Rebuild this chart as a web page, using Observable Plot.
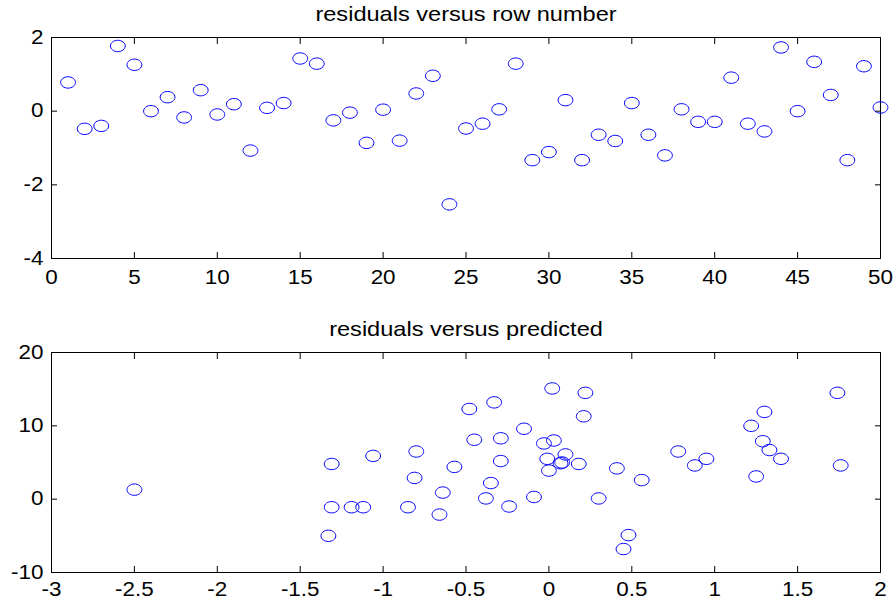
<!DOCTYPE html>
<html>
<head>
<meta charset="utf-8">
<script src="https://cdn.jsdelivr.net/npm/d3@7"></script>
<script src="https://cdn.jsdelivr.net/npm/@observablehq/plot@0.6"></script>
<style>
  body { margin: 0; background: #ffffff; }
  #chart svg { display: block; }
</style>
</head>
<body>
<div id="chart"></div>
<script>
// ---- data ----
const rowNumber = [1,2,3,4,5,6,7,8,9,10,11,12,13,14,15,16,17,18,19,20,21,22,23,24,25,
                   26,27,28,29,30,31,32,33,34,35,36,37,38,39,40,41,42,43,44,45,46,47,48,49,50];
const residualsByRow = [0.78,-0.48,-0.40,1.77,1.26,0.00,0.38,-0.17,0.57,-0.09,0.19,-1.07,0.09,0.22,1.43,1.29,-0.25,-0.04,-0.86,0.04,-0.80,0.48,0.96,-2.53,-0.47,
                        -0.34,0.05,1.29,-1.33,-1.11,0.30,-1.33,-0.64,-0.81,0.22,-0.64,-1.20,0.05,-0.29,-0.29,0.91,-0.34,-0.55,1.73,0.00,1.34,0.44,-1.33,1.22,0.10];
const predicted = [-2.50,-1.31,-1.31,-1.19,-1.12,-1.33,-1.06,-0.80,-0.81,-0.85,-0.64,-0.66,-0.57,-0.48,-0.33,-0.45,-0.29,-0.29,-0.15,-0.35,-0.38,-0.24,-0.09,0.02,0.22,
                   0.21,-0.03,0.03,-0.01,0.10,0.07,0.08,0.00,0.18,0.41,0.56,0.30,0.48,0.45,0.78,0.88,0.95,1.22,1.30,1.29,1.33,1.40,1.25,1.74,1.76];
const residualsByPred = [1.3,4.8,-1.1,-1.1,-1.1,-5.0,5.9,6.5,2.9,-1.1,0.9,-2.1,4.4,12.3,13.2,8.1,8.3,5.2,9.6,2.2,0.1,-1.0,0.3,15.1,14.5,
                         11.3,7.6,8.0,5.5,6.1,4.9,5.0,3.9,4.8,4.2,2.6,0.1,-4.9,-6.8,6.5,4.6,5.5,10.0,11.9,7.9,6.7,5.5,3.1,14.5,4.6];

const topXTicks = [0,5,10,15,20,25,30,35,40,45,50];
const topYTicks = [-4,-2,0,2];
const botXTicks = [-3,-2.5,-2,-1.5,-1,-0.5,0,0.5,1,1.5,2];
const botYTicks = [-10,0,10,20];
const titles = ["residuals versus row number", "residuals versus predicted"];

// ---- helpers ----
const ellipse = {
  draw(context) {
    const rx = 7.4, ry = 5.7, k = 0.5523;
    context.moveTo(rx, 0);
    context.bezierCurveTo(rx, ry * k, rx * k, ry, 0, ry);
    context.bezierCurveTo(-rx * k, ry, -rx, ry * k, -rx, 0);
    context.bezierCurveTo(-rx, -ry * k, -rx * k, -ry, 0, -ry);
    context.bezierCurveTo(rx * k, -ry, rx, -ry * k, rx, 0);
    context.closePath();
  }
};
const fmt = d => String(d);
const none = () => "";
const TICK = 6;

function panel({xs, ys, xDomain, yDomain, xTicks, yTicks, title, height, marginTop, marginBottom, titleDy, xPad}) {
  const data = xs.map((x, i) => ({x, y: ys[i]}));
  const tk = {tickSize: TICK, tickFormat: none, label: null, stroke: "#000000", strokeWidth: 1};
  return Plot.plot({
    width: 895,
    height,
    marginLeft: 51,
    marginRight: 15,
    marginTop,
    marginBottom,
    style: {fontFamily: "Arial, 'Liberation Sans', sans-serif", fontSize: "19.5px", background: "#ffffff", color: "#000000", overflow: "visible"},
    x: {domain: xDomain, nice: false},
    y: {domain: yDomain, nice: false},
    marks: [
      Plot.axisX(xTicks, {anchor: "bottom", tickSize: 0, tickPadding: xPad, tickFormat: fmt, label: null}),
      Plot.axisY(yTicks, {anchor: "left", tickSize: 0, tickPadding: 8, tickFormat: fmt, label: null}),
      // inward tick marks on all four sides (outward ticks shifted inside the frame)
      Plot.axisX(xTicks, {anchor: "bottom", dy: -TICK, ...tk}),
      Plot.axisX(xTicks, {anchor: "top", dy: TICK, ...tk}),
      Plot.axisY(yTicks, {anchor: "left", dx: TICK, ...tk}),
      Plot.axisY(yTicks, {anchor: "right", dx: -TICK, ...tk}),
      Plot.frame({stroke: "#000000", strokeWidth: 1}),
      Plot.dot(data, {x: "x", y: "y", symbol: ellipse, r: 7, stroke: "#0000ff", strokeWidth: 1, fill: "none"}),
      Plot.text([title], {frameAnchor: "top", dy: titleDy, text: d => d, fontSize: 20.5, lineAnchor: "middle", fill: "#000000"})
    ]
  });
}

const topPanel = panel({xs: rowNumber, ys: residualsByRow, xDomain: [0, 50], yDomain: [-4, 2],
  xTicks: topXTicks, yTicks: topYTicks, title: titles[0], height: 300, marginTop: 37, marginBottom: 42, titleDy: -22.8, xPad: 12});
const bottomPanel = panel({xs: predicted, ys: residualsByPred, xDomain: [-3, 2], yDomain: [-10, 20],
  xTicks: botXTicks, yTicks: botYTicks, title: titles[1], height: 300, marginTop: 52, marginBottom: 28, titleDy: -23.5, xPad: 10});

const chart = document.getElementById("chart");
chart.append(topPanel, bottomPanel);

// widen glyphs horizontally to match the reference's stretched lettering
for (const svg of [topPanel, bottomPanel]) {
  svg.querySelectorAll("text").forEach(el => {
    const t = el.getAttribute("transform");
    if (t) el.setAttribute("transform", t + " scale(1.15,1)");
  });
}
</script>
</body>
</html>
